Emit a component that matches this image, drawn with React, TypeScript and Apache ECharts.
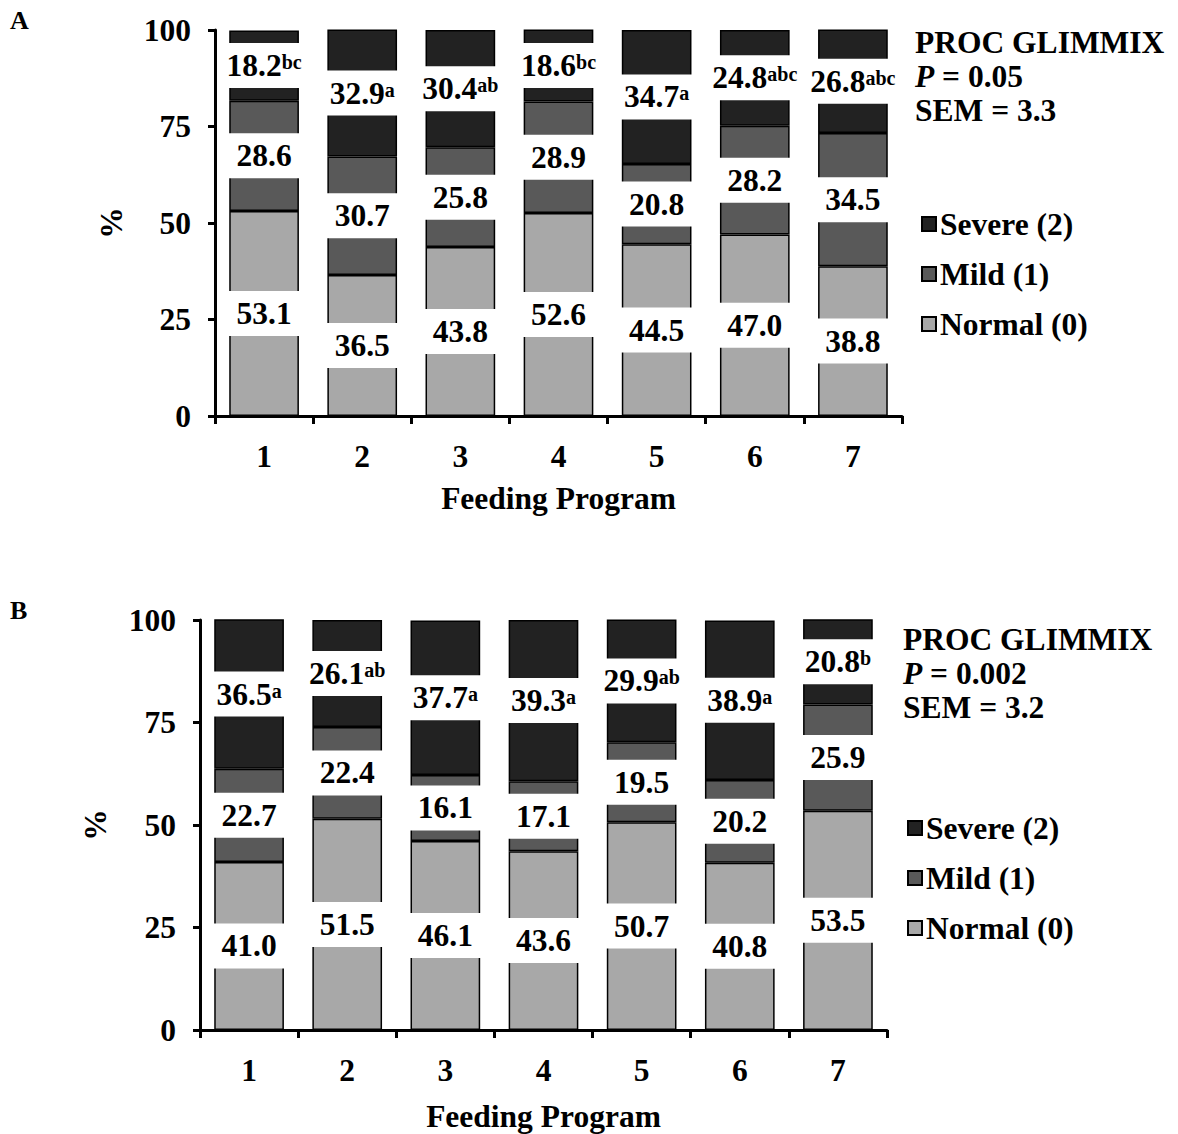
import React, { useEffect, useRef } from "react";
import * as echarts from "echarts";

const categories = ["1", "2", "3", "4", "5", "6", "7"];
const yTicks = [0, 25, 50, 75, 100];

const normalA = [53.1, 36.5, 43.8, 52.6, 44.5, 47.0, 38.8];
const mildA = [28.6, 30.7, 25.8, 28.9, 20.8, 28.2, 34.5];
const severeA = [18.2, 32.9, 30.4, 18.6, 34.7, 24.8, 26.8];
const lettersA = ["bc", "a", "ab", "bc", "a", "abc", "abc"];

const normalB = [41.0, 51.5, 46.1, 43.6, 50.7, 40.8, 53.5];
const mildB = [22.7, 22.4, 16.1, 17.1, 19.5, 20.2, 25.9];
const severeB = [36.5, 26.1, 37.7, 39.3, 29.9, 38.9, 20.8];
const lettersB = ["a", "ab", "a", "a", "ab", "a", "b"];

const statsA = ["PROC GLIMMIX", "0.05", "3.3"];
const statsB = ["PROC GLIMMIX", "0.002", "3.2"];

const FONT = '"Liberation Serif", "Times New Roman", serif';
const FS = 31.5;
const COLORS = { normal: "#a8a8a8", mild: "#595959", severe: "#222222" };
const NAMES = { normal: "Normal (0)", mild: "Mild (1)", severe: "Severe (2)" };

function makeSeries(
  name: string,
  data: number[],
  color: string,
  idx: number,
  letters?: string[]
) {
  return {
    type: "bar",
    name,
    stack: "s" + idx,
    xAxisIndex: idx,
    yAxisIndex: idx,
    data,
    barWidth: "71%",
    itemStyle: { color, borderColor: "#000", borderWidth: 1.5 },
    label: {
      show: true,
      position: "inside",
      backgroundColor: "#fff",
      width: 72,
      padding: [5, 0],
      align: "center",
      verticalAlign: "middle",
      formatter: (p: any) =>
        letters
          ? `{v|${Number(p.value).toFixed(1)}}{s|${letters[p.dataIndex]}}`
          : `{v|${Number(p.value).toFixed(1)}}`,
      rich: {
        v: {
          fontFamily: FONT,
          fontWeight: "bold",
          fontSize: FS,
          color: "#000",
          lineHeight: 35,
        },
        s: {
          fontFamily: FONT,
          fontWeight: "bold",
          fontSize: 20,
          color: "#000",
          lineHeight: 22,
          padding: [4, 0, 0, 0],
          verticalAlign: "top",
        },
      },
    },
  };
}

function axesFor(idx: number, nameGapX: number, nameGapY: number) {
  const labelStyle = {
    fontFamily: FONT,
    fontWeight: "bold",
    fontSize: FS,
    color: "#000",
  };
  return {
    x: {
      type: "category",
      gridIndex: idx,
      data: categories,
      name: "Feeding Program",
      nameLocation: "middle",
      nameGap: nameGapX,
      nameTextStyle: labelStyle,
      axisLine: { lineStyle: { color: "#000", width: 3 } },
      axisTick: { show: true, length: 8, lineStyle: { color: "#000", width: 3 } },
      axisLabel: { ...labelStyle, margin: 24 },
    },
    y: {
      type: "value",
      gridIndex: idx,
      min: 0,
      max: 100,
      interval: 25,
      name: "%",
      nameLocation: "middle",
      nameGap: nameGapY,
      nameTextStyle: labelStyle,
      splitLine: { show: false },
      axisLine: { show: true, lineStyle: { color: "#000", width: 3 } },
      axisTick: { show: true, length: 7, lineStyle: { color: "#000", width: 3 } },
      axisLabel: {
        ...labelStyle,
        margin: 24,
        formatter: (v: number) => (yTicks.includes(v) ? String(v) : ""),
      },
    },
  };
}

function statsText(x: number, y: number, stats: string[]) {
  const base = { fontFamily: FONT, fontWeight: "bold", fontSize: FS, fill: "#000" };
  return [
    { type: "text", left: x, top: y, style: { ...base, text: stats[0] } },
    {
      type: "text",
      left: x,
      top: y + 34,
      style: {
        ...base,
        text: `{i|P} = ${stats[1]}`,
        rich: {
          i: { fontFamily: FONT, fontWeight: "bold", fontStyle: "italic", fontSize: FS, color: "#000" },
        },
      },
    },
    { type: "text", left: x, top: y + 68, style: { ...base, text: `SEM = ${stats[2]}` } },
  ];
}

export default function App() {
  const ref = useRef<HTMLDivElement>(null);
  useEffect(() => {
    document.body.style.margin = "0";
    const chart = echarts.init(ref.current!, undefined, { renderer: "svg" });
    const a = axesFor(0, 66, 88);
    const b = axesFor(1, 70, 89);
    const legendBase = {
      orient: "vertical",
      itemWidth: 14,
      itemHeight: 14,
      itemGap: 16,
      icon: "rect",
      data: [NAMES.severe, NAMES.mild, NAMES.normal],
      textStyle: {
        fontFamily: FONT,
        fontWeight: "bold",
        fontSize: FS,
        color: "#000",
        lineHeight: 34,
        padding: [0, 0, 0, -1],
      },
    };
    chart.setOption({
      animation: false,
      backgroundColor: "#fff",
      grid: [
        { left: 215, top: 30, width: 687, height: 386 },
        { left: 200, top: 620, width: 687, height: 410 },
      ],
      xAxis: [a.x, b.x],
      yAxis: [a.y, b.y],
      legend: [
        { ...legendBase, left: 916, top: 202 },
        { ...legendBase, left: 902, top: 806 },
      ],
      series: [
        makeSeries(NAMES.normal, normalA, COLORS.normal, 0),
        makeSeries(NAMES.mild, mildA, COLORS.mild, 0),
        makeSeries(NAMES.severe, severeA, COLORS.severe, 0, lettersA),
        makeSeries(NAMES.normal, normalB, COLORS.normal, 1),
        makeSeries(NAMES.mild, mildB, COLORS.mild, 1),
        makeSeries(NAMES.severe, severeB, COLORS.severe, 1, lettersB),
      ],
      graphic: [
        {
          type: "text",
          left: 10,
          top: 7,
          style: { text: "A", fontFamily: FONT, fontWeight: "bold", fontSize: 26, fill: "#000" },
        },
        {
          type: "text",
          left: 10,
          top: 597,
          style: { text: "B", fontFamily: FONT, fontWeight: "bold", fontSize: 26, fill: "#000" },
        },
        ...statsText(915, 26, statsA),
        ...statsText(903, 623, statsB),
      ],
    });
    return () => chart.dispose();
  }, []);
  return <div ref={ref} style={{ width: 1178, height: 1134 }} />;
}
